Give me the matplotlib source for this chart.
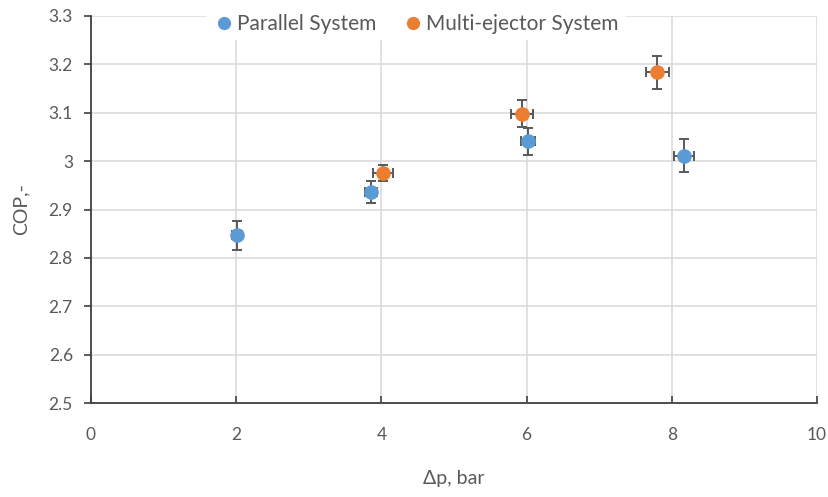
import matplotlib
matplotlib.use("Agg")

import matplotlib.pyplot as plt

# Parallel system
par_dp = [2.01, 3.86, 6.02, 8.17]
par_cop = [2.847, 2.936, 3.041, 3.011]
par_xerr = [0.07, 0.08, 0.10, 0.14]
par_yerr = [0.030, 0.022, 0.028, 0.034]

# Multi-ejector system
mej_dp = [4.02, 5.94, 7.80]
mej_cop = [2.975, 3.098, 3.184]
mej_xerr = [0.135, 0.15, 0.16]
mej_yerr = [0.017, 0.028, 0.034]

xticks = [0, 2, 4, 6, 8, 10]
yticks = [2.5, 2.6, 2.7, 2.8, 2.9, 3.0, 3.1, 3.2, 3.3]
ytick_labels = ["2.5", "2.6", "2.7", "2.8", "2.9", "3", "3.1", "3.2", "3.3"]

BLUE = "#5B9BD5"
ORANGE = "#ED7D31"
TEXT = "#595959"
ERR = "#595959"

plt.rcParams["font.family"] = ["Lato", "DejaVu Sans"]

fig = plt.figure(figsize=(8.29, 4.97), dpi=100)
ax = fig.add_axes([91 / 829, 1 - 403 / 497, (817 - 91) / 829, (403 - 16) / 497])

ax.errorbar(par_dp, par_cop, xerr=par_xerr, yerr=par_yerr, fmt="o", color=BLUE,
            markersize=9.5, ecolor=ERR, elinewidth=1.4, capsize=3.5, capthick=1.4,
            label="Parallel System", zorder=3)
ax.errorbar(mej_dp, mej_cop, xerr=mej_xerr, yerr=mej_yerr, fmt="o", color=ORANGE,
            markersize=9.5, ecolor=ERR, elinewidth=1.4, capsize=3.5, capthick=1.4,
            label="Multi-ejector System", zorder=3)

ax.set_xlim(0, 10)
ax.set_ylim(2.5, 3.3)
ax.set_xticks(xticks)
ax.set_yticks(yticks)
ax.set_yticklabels(ytick_labels)
ax.grid(True, color="#d9d9d9", linewidth=1.1, zorder=0)
ax.set_axisbelow(True)

for side in ["top", "right"]:
    ax.spines[side].set_visible(False)
for side in ["left", "bottom"]:
    ax.spines[side].set_color("#404040")
    ax.spines[side].set_linewidth(1.3)

ax.tick_params(axis="y", direction="out", length=5, width=1.2, color="#404040",
               labelsize=12.5, labelcolor=TEXT, pad=8)
ax.tick_params(axis="x", direction="in", length=5, width=1.2, color="#404040",
               labelsize=12.5, labelcolor=TEXT, pad=17)

ax.set_xlabel("Δp, bar", fontsize=14, color=TEXT, labelpad=20)
ax.set_ylabel("COP,-", fontsize=14, color=TEXT, labelpad=14)

handles, labels = ax.get_legend_handles_labels()
handles = [h[0] for h in handles]
leg = ax.legend(handles, labels, loc="center", bbox_to_anchor=(0.447, 1 - 8 / 387),
                ncol=2, frameon=True, fontsize=15, handletextpad=0.1,
                columnspacing=1.2, handlelength=1.1, borderpad=0.25,
                borderaxespad=0)
leg.get_frame().set_facecolor("white")
leg.get_frame().set_edgecolor("white")
leg.get_frame().set_alpha(1)
for t in leg.get_texts():
    t.set_color(TEXT)
for h in leg.legend_handles:
    h.set_markersize(8.5)

fig.savefig("out.png", dpi=100)
